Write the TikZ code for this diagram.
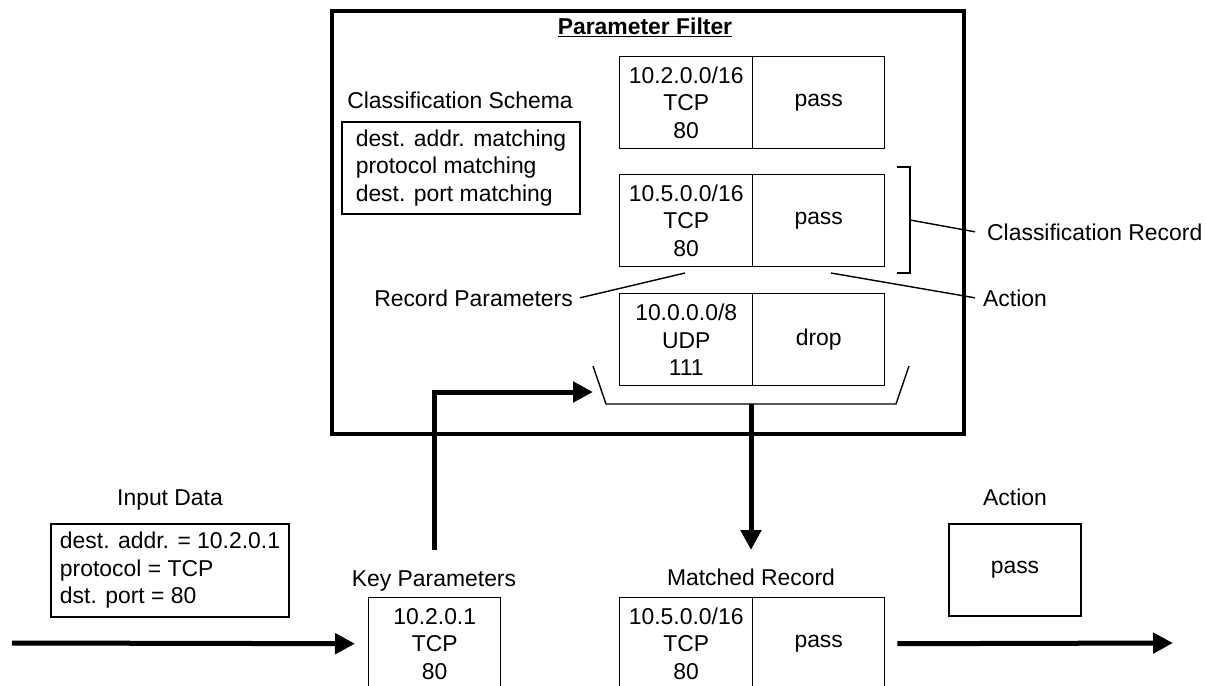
\documentclass[tikz,border=0pt]{standalone}
\usepackage{fontspec}
\setmainfont{Liberation Sans}
\usetikzlibrary{arrows.meta}
\begin{document}
\begin{tikzpicture}[x=1pt,y=-1pt,
  every node/.style={font=\fontsize{22.9}{27.5}\selectfont, inner sep=0pt},
  thinline/.style={line width=1.4pt},
  frameline/.style={line width=3.5pt},
  flow/.style={line width=5pt, -{Triangle[length=20pt,width=20pt]}},
  box/.style={draw, thinline, align=center},
  cell/.style={box, minimum height=92pt, anchor=north west},
  pcell/.style={cell, minimum width=133pt},
  acell/.style={cell, minimum width=132pt},
  lbl/.style={align=center}]
\useasboundingbox (0,0) rectangle (1206,685);
\clip (0,0) rectangle (1206,685);

% filter frame and its title
\node[draw, frameline, minimum width=632pt, minimum height=422.5pt, anchor=north west] (filter) at (330,9.5) {};
\node[font=\fontsize{22.9}{27.5}\selectfont\bfseries, anchor=base] (title) at (645,35) {\underline{Parameter Filter}};

% classification schema
\node[lbl, anchor=base] (schemalbl) at (460,108) {Classification Schema};
\node[box, align=left, minimum width=238pt, minimum height=92pt] (schema) at (461,168)
  {dest. addr. matching\\protocol matching\\dest. port matching};

% classification records
\node[pcell] (r1p) at (619,56)  {10.2.0.0/16\\TCP\\80};
\node[acell] (r1a) at (752,56)  {pass};
\node[pcell] (r2p) at (619,174) {10.5.0.0/16\\TCP\\80};
\node[acell] (r2a) at (752,174) {pass};
\node[pcell] (r3p) at (619,293) {10.0.0.0/8\\UDP\\111};
\node[acell] (r3a) at (752,293) {drop};

% record annotations
\node[lbl, anchor=base west] (crlbl) at (987,240) {Classification Record};
\node[lbl, anchor=base west] (actlbl) at (983,306) {Action};
\node[lbl, anchor=base east] (rplbl) at (573,306) {Record Parameters};
\draw[thinline] (897,167) -- (910,167) -- (910,273) -- (897,273);
\coordinate (brk) at (910,220);
\coordinate (rpfoot) at (685,273);
\coordinate (actfoot) at (831,273);
\draw[thinline] (brk) -- ([xshift=-12pt]crlbl.west);
\draw[thinline] (actfoot) -- ([xshift=-8pt]actlbl.west);
\draw[thinline] (rpfoot) -- ([xshift=7pt]rplbl.east);

% lookup tray under the records
\coordinate (trtl) at (593,366);
\coordinate (trbl) at (606,404);
\coordinate (trbr) at (896,404);
\coordinate (trtr) at (909,366);
\coordinate (trmid) at (751,404);
\coordinate (feed) at (593,392);
\draw[thinline] (trtl) -- (trbl) -- (trbr) -- (trtr);

% input data
\node[lbl, anchor=base] (inlbl) at (170,505) {Input Data};
\node[box, align=left, minimum width=238pt, minimum height=93pt] (input) at (170,570.5)
  {dest. addr. = 10.2.0.1\\protocol = TCP\\dst. port = 80};

% key parameters
\node[lbl, anchor=base] (keylbl) at (434,586) {Key Parameters};
\node[acell] (key) at (368,597) {10.2.0.1\\TCP\\80};

% matched record
\node[lbl, anchor=base] (matchlbl) at (751,585) {Matched Record};
\node[pcell] (mp) at (619,597) {10.5.0.0/16\\TCP\\80};
\node[acell] (ma) at (752,597) {pass};

% resulting action
\node[lbl, anchor=base] (reslbl) at (1015,505) {Action};
\node[box, minimum width=132pt, minimum height=92pt] (res) at (1015,570) {pass};

% data flow
\coordinate (src) at (12,643);
\coordinate (keyout) at (434,550);
\coordinate (matchin) at (751,550);
\coordinate (sink) at (1173,643);
\draw[flow] (src) -- ([xshift=-13pt]key.west);
\draw[flow] (keyout) |- (feed);
\draw[flow] (trmid) -- (matchin);
\draw[flow] ([xshift=12pt]ma.east) -- (sink);
\end{tikzpicture}
\end{document}
